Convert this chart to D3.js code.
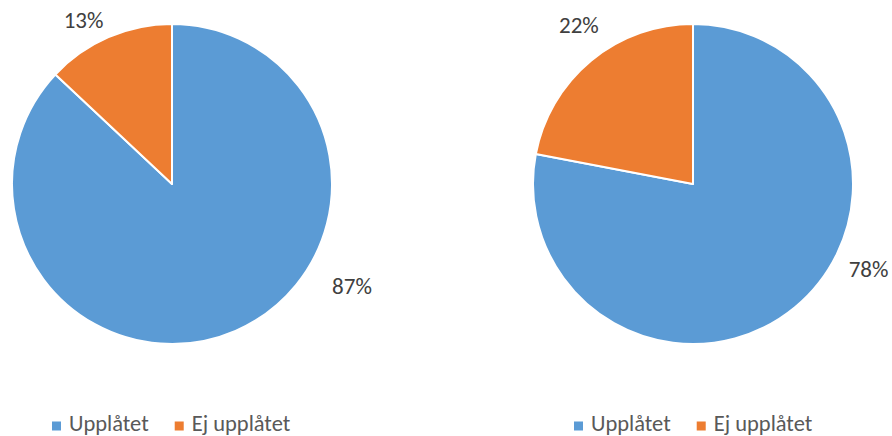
<!DOCTYPE html>
<html>
<head>
<meta charset="utf-8">
<script src="https://cdn.jsdelivr.net/npm/d3@7"></script>
<style>
  body { margin: 0; background: #fff; }
  text { font-family: Carlito, Lato, "Open Sans", sans-serif; }
</style>
</head>
<body>
<div id="chart"></div>
<script>
// data
var categories = ["Upplåtet", "Ej upplåtet"];
var leftValues = [87, 13];
var rightValues = [78, 22];
var colors = ["#5B9BD5", "#ED7D31"];

var width = 892, height = 436;
var radius = 160;

var svg = d3.select("#chart")
  .append("svg")
  .attr("width", width)
  .attr("height", height);

var pie = d3.pie().sort(null).value(function(d) { return d; });
var arc = d3.arc().innerRadius(0).outerRadius(radius);

// label placement (angle offset from slice middle in degrees, distance from center)
var leftLabelPos = [{ shift: -37, dist: 207 }, { shift: -5, dist: 186 }];
var rightLabelPos = [{ shift: -24.6, dist: 195 }, { shift: 4, dist: 196 }];

function drawPie(values, cx, cy, labelPos, legendX) {
  var g = svg.append("g").attr("transform", "translate(" + cx + "," + cy + ")");
  var arcs = pie(values);

  g.selectAll("path")
    .data(arcs)
    .enter()
    .append("path")
    .attr("d", arc)
    .attr("fill", function(d, i) { return colors[i]; })
    .attr("stroke", "#fff")
    .attr("stroke-width", 2)
    .attr("stroke-linejoin", "round");

  var total = d3.sum(values);
  g.selectAll(".lbl")
    .data(arcs)
    .enter()
    .append("text")
    .attr("class", "lbl")
    .attr("x", function(d, i) {
      var a = (d.startAngle + d.endAngle) / 2 + labelPos[i].shift * Math.PI / 180;
      return Math.sin(a) * labelPos[i].dist;
    })
    .attr("y", function(d, i) {
      var a = (d.startAngle + d.endAngle) / 2 + labelPos[i].shift * Math.PI / 180;
      return -Math.cos(a) * labelPos[i].dist;
    })
    .attr("dy", "0.35em")
    .attr("text-anchor", "middle")
    .attr("font-size", 23)
    .attr("fill", "#404040")
    .text(function(d) { return Math.round(d.value / total * 100) + "%"; });

  // legend
  var legend = svg.append("g").attr("transform", "translate(" + legendX + ",426)");
  var xoff = 0;
  categories.forEach(function(c, i) {
    var item = legend.append("g").attr("transform", "translate(" + xoff + ",0)");
    item.append("rect")
      .attr("x", 0).attr("y", -4.5)
      .attr("width", 9).attr("height", 9)
      .attr("fill", colors[i]);
    var t = item.append("text")
      .attr("x", 17)
      .attr("y", 5)
      .attr("font-size", 22.5)
      .attr("fill", "#595959")
      .text(c);
    xoff += 17 + t.node().getComputedTextLength() + 26;
  });
}

drawPie(leftValues, 172, 184, leftLabelPos, 52);
drawPie(rightValues, 693, 184, rightLabelPos, 574);
</script>
</body>
</html>
